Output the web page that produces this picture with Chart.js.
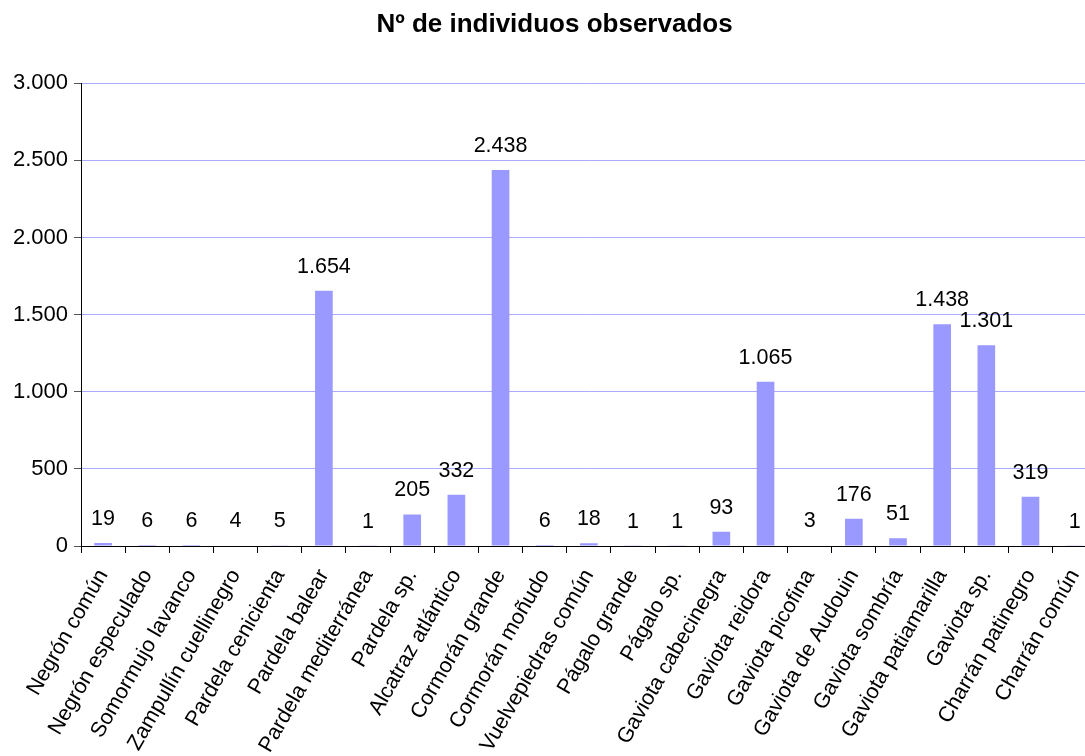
<!DOCTYPE html>
<html>
<head>
<meta charset="utf-8">
<script src="https://cdn.jsdelivr.net/npm/chart.js@4/dist/chart.umd.min.js"></script>
<style>
  html, body { margin: 0; padding: 0; background: #fff; overflow: hidden; }
  #wrap { width: 1109px; height: 756px; }
</style>
</head>
<body>
<div id="wrap"><canvas id="chart"></canvas></div>
<script>
// especies
const especies = [
  'Negrón común', 'Negrón especulado', 'Somormujo lavanco', 'Zampullín cuellinegro',
  'Pardela cenicienta', 'Pardela balear', 'Pardela mediterránea', 'Pardela sp.',
  'Alcatraz atlántico', 'Cormorán grande', 'Cormorán moñudo', 'Vuelvepiedras común',
  'Págalo grande', 'Págalo sp.', 'Gaviota cabecinegra', 'Gaviota reidora',
  'Gaviota picofina', 'Gaviota de Audouin', 'Gaviota sombría', 'Gaviota patiamarilla',
  'Gaviota sp.', 'Charrán patinegro', 'Charrán común'
];

// nº de individuos
const individuos = [19, 6, 6, 4, 5, 1654, 1, 205, 332, 2438, 6, 18, 1, 1, 93, 1065, 3, 176, 51, 1438, 1301, 319, 1];

const yTicks = [0, 500, 1000, 1500, 2000, 2500, 3000];

const FONT = '"Liberation Sans", Arial, sans-serif';
const fmt = v => String(v).replace(/\B(?=(\d{3})+(?!\d))/g, '.');

// etiquetas encima de las barras
const etiquetas = {
  id: 'etiquetas',
  afterDatasetsDraw(chart) {
    const ctx = chart.ctx;
    const meta = chart.getDatasetMeta(0);
    ctx.save();
    ctx.font = '21.5px ' + FONT;
    ctx.fillStyle = '#000';
    ctx.textAlign = 'center';
    ctx.textBaseline = 'middle';
    meta.data.forEach((bar, i) => {
      ctx.fillText(fmt(individuos[i]), bar.x, bar.y - 24);
    });
    ctx.restore();
  }
};

new Chart(document.getElementById('chart'), {
  type: 'bar',
  data: {
    labels: especies,
    datasets: [{
      data: individuos,
      backgroundColor: '#9999ff',
      barPercentage: 0.4,
      categoryPercentage: 1
    }]
  },
  options: {
    responsive: true,
    maintainAspectRatio: false,
    animation: false,
    layout: { padding: 0 },
    plugins: {
      legend: { display: false },
      tooltip: { enabled: false },
      title: {
        display: true,
        text: 'Nº de individuos observados',
        color: '#000',
        font: { family: FONT, size: 26, weight: 'bold' },
        padding: { top: 9, bottom: 43 }
      }
    },
    scales: {
      x: {
        offset: true,
        grid: {
          offset: true,
          drawOnChartArea: false,
          drawTicks: true,
          tickLength: 7,
          tickColor: '#000'
        },
        border: { color: '#000', width: 1 },
        ticks: {
          color: '#000',
          maxRotation: 60,
          minRotation: 60,
          autoSkip: false,
          padding: 12,
          font: { family: FONT, size: 21.5 }
        },
        afterFit(scale) { scale.height = 210; }
      },
      y: {
        min: 0,
        max: 3000,
        afterBuildTicks(scale) { scale.ticks = yTicks.map(v => ({ value: v })); },
        grid: {
          color: '#aaaaff',
          tickColor: '#555',
          tickLength: 7
        },
        border: { color: '#000', width: 1 },
        ticks: {
          color: '#000',
          padding: 6,
          font: { family: FONT, size: 22 },
          callback: v => fmt(v)
        },
        afterFit(scale) { scale.width = 81; }
      }
    }
  },
  plugins: [etiquetas]
});
</script>
</body>
</html>
